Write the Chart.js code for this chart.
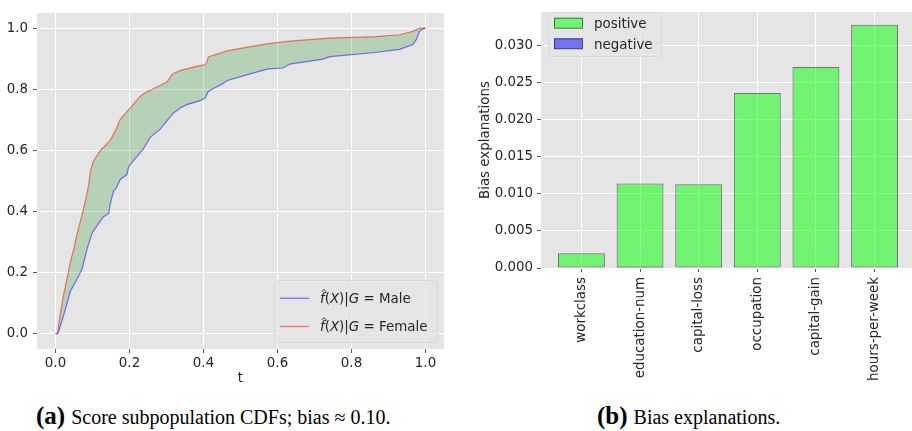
<!DOCTYPE html>
<html>
<head>
<meta charset="utf-8">
<script src="https://cdn.jsdelivr.net/npm/chart.js@4.4.1/dist/chart.umd.min.js"></script>
<style>
  html, body { margin: 0; width: 912px; height: 431px; overflow: hidden; background: #fff; }
  canvas { position: absolute; top: 0; }
  #cdf { left: 0; }
  #bias { left: 455px; }
  .cap { position: absolute; top: 406px; font-family: "Liberation Serif", "Times New Roman", serif; font-size: 20px; line-height: 20px; color: #000; white-space: nowrap; }
  .cap b { font-size: 25px; margin-right: 6px; }
</style>
</head>
<body>
<canvas id="cdf" width="452" height="392"></canvas>
<canvas id="bias" width="470" height="392"></canvas>
<div class="cap" style="left:36px"><b>(a)</b>Score subpopulation CDFs; bias ≈ 0.10.</div>
<div class="cap" style="left:597px"><b>(b)</b>Bias explanations.</div>
<script>
// (a) empirical score CDFs per group
const tTicks = [0, 0.2, 0.4, 0.6, 0.8, 1.0];
const cdfTicks = [0, 0.2, 0.4, 0.6, 0.8, 1.0];

const maleT = [0, 0.005, 0.009, 0.023, 0.040, 0.063, 0.072, 0.085, 0.099, 0.117, 0.130, 0.144, 0.148, 0.157, 0.162,
  0.175, 0.193, 0.198, 0.220, 0.238, 0.256, 0.283, 0.301, 0.319, 0.337, 0.355, 0.391, 0.404, 0.413, 0.427, 0.445,
  0.467, 0.526, 0.575, 0.615, 0.633, 0.723, 0.741, 0.858, 0.930, 0.966, 0.975, 0.984, 0.995, 1.0];
const maleCdf = [0, 0, 0.010, 0.064, 0.138, 0.190, 0.213, 0.276, 0.330, 0.362, 0.383, 0.394, 0.425, 0.468, 0.473,
  0.505, 0.521, 0.548, 0.580, 0.606, 0.643, 0.670, 0.697, 0.723, 0.739, 0.750, 0.763, 0.771, 0.793, 0.803, 0.814,
  0.830, 0.851, 0.867, 0.870, 0.883, 0.899, 0.907, 0.920, 0.931, 0.947, 0.963, 0.990, 1.0, 1.0];

const femaleT = [0, 0.005, 0.009, 0.0135, 0.022, 0.031, 0.040, 0.049, 0.060, 0.072, 0.083, 0.090, 0.094, 0.102,
  0.121, 0.148, 0.162, 0.175, 0.198, 0.229, 0.243, 0.274, 0.301, 0.317, 0.342, 0.391, 0.404, 0.409, 0.413, 0.463,
  0.508, 0.571, 0.633, 0.741, 0.867, 0.930, 0.966, 0.984, 0.995, 1.0];
const femaleCdf = [0, 0, 0.032, 0.069, 0.128, 0.180, 0.234, 0.276, 0.335, 0.390, 0.447, 0.489, 0.530, 0.564,
  0.600, 0.633, 0.665, 0.702, 0.734, 0.777, 0.789, 0.808, 0.824, 0.851, 0.864, 0.878, 0.881, 0.888, 0.906, 0.926,
  0.936, 0.949, 0.958, 0.968, 0.973, 0.979, 0.990, 1.0, 1.0, 1.0];

// (b) per-feature bias explanations
const features = ["workclass", "education-num", "capital-loss", "occupation", "capital-gain", "hours-per-week"];
const positive = [0.0020, 0.0114, 0.0113, 0.0236, 0.0271, 0.0328];
const negative = [0, 0.00012, 0, 0, 0, 0];
const biasTicks = [0, 0.005, 0.010, 0.015, 0.020, 0.025, 0.030];

const FONT = '"DejaVu Sans", sans-serif';
const FS = 13.4;
const BG = "#e5e5e5";
const INK = "#262626";
const TICK = "#555555";

Chart.defaults.font.family = FONT;
Chart.defaults.font.size = FS;
Chart.defaults.color = INK;

// ggplot-style grey panel behind the data
const panelBg = {
  id: "panelBg",
  beforeDraw(chart) {
    const { ctx, chartArea: a } = chart;
    ctx.save();
    ctx.fillStyle = BG;
    ctx.fillRect(a.left, a.top, a.right - a.left, a.bottom - a.top);
    ctx.restore();
  },
};

function legendBox(ctx, x, y, w, h) {
  ctx.save();
  ctx.beginPath();
  ctx.roundRect(x, y, w, h, 3);
  ctx.globalAlpha = 0.8;
  ctx.fillStyle = BG;
  ctx.fill();
  ctx.strokeStyle = "#d6d6d6";
  ctx.lineWidth = 1;
  ctx.stroke();
  ctx.restore();
}

// f̂(X)|G = <group>, mixing oblique math letters with upright text
function mathLabel(ctx, x, base, group) {
  const parts = [["f", 1], ["(", 0], ["X", 1], [")", 0], ["|", 0], ["G", 1], [" = ", 0], [group, 0]];
  let cx = x;
  for (const [s, it] of parts) {
    ctx.font = (it ? "italic " : "") + FS + "px " + FONT;
    ctx.fillText(s, cx, base);
    if (s === "f") {
      const hx = cx + 4;
      ctx.save();
      ctx.lineWidth = 0.9;
      ctx.strokeStyle = INK;
      ctx.beginPath();
      ctx.moveTo(hx - 2.2, base - 11.5);
      ctx.lineTo(hx, base - 13.8);
      ctx.lineTo(hx + 2.2, base - 11.5);
      ctx.stroke();
      ctx.restore();
    }
    cx += ctx.measureText(s).width;
  }
}

const cdfLegend = {
  id: "cdfLegend",
  afterDraw(chart) {
    const ctx = chart.ctx;
    legendBox(ctx, 274.5, 280.5, 163, 62);
    const rows = [[298.3, chart.data.datasets[0]], [326.5, chart.data.datasets[1]]];
    ctx.save();
    ctx.fillStyle = INK;
    ctx.textBaseline = "alphabetic";
    for (const [y, ds] of rows) {
      ctx.strokeStyle = ds.borderColor;
      ctx.lineWidth = 1.3;
      ctx.beginPath();
      ctx.moveTo(280, y);
      ctx.lineTo(309, y);
      ctx.stroke();
      mathLabel(ctx, 320, y + 4.9, ds.label);
    }
    ctx.restore();
  },
};

const biasLegend = {
  id: "biasLegend",
  afterDraw(chart) {
    const ctx = chart.ctx;
    const ox = -455;
    legendBox(ctx, 548.5 + ox, 12.5, 113, 44);
    ctx.save();
    ctx.font = FS + "px " + FONT;
    ctx.textBaseline = "alphabetic";
    const rows = [[17.7, chart.data.datasets[0]], [38.3, chart.data.datasets[1]]];
    for (const [y, ds] of rows) {
      ctx.fillStyle = BG;
      ctx.fillRect(554 + ox, y, 28.7, 10.7);
      ctx.fillStyle = ds.backgroundColor;
      ctx.fillRect(554 + ox, y, 28.7, 10.7);
      ctx.strokeStyle = ds.borderColor;
      ctx.lineWidth = 1;
      ctx.strokeRect(554.5 + ox, y + 0.5, 28, 10);
      ctx.fillStyle = INK;
      ctx.fillText(ds.label, 594 + ox, y + 5.35 + 4.9);
    }
    ctx.restore();
  },
};

const pts = (xs, ys) => xs.map((x, i) => ({ x, y: ys[i] }));
const fixTicks = (vals) => (scale) => { scale.ticks = vals.map((value) => ({ value })); };
const grid = { color: "#ffffff", lineWidth: 1, tickColor: TICK, tickLength: 4, drawTicks: true, offset: false };

new Chart(document.getElementById("cdf"), {
  type: "line",
  data: {
    datasets: [
      {
        label: "Male",
        data: pts(maleT, maleCdf),
        borderColor: "rgba(0,0,255,0.5)",
        borderWidth: 1.2,
        pointRadius: 0,
        tension: 0,
        fill: false,
      },
      {
        label: "Female",
        data: pts(femaleT, femaleCdf),
        borderColor: "rgba(255,0,0,0.5)",
        backgroundColor: "rgba(0,128,0,0.2)",
        borderWidth: 1.2,
        pointRadius: 0,
        tension: 0,
        fill: { target: 0 },
      },
    ],
  },
  options: {
    responsive: false,
    animation: false,
    events: [],
    layout: { padding: { top: 5, right: 8, left: 0, bottom: 0 } },
    plugins: { legend: { display: false }, tooltip: { enabled: false } },
    scales: {
      x: {
        type: "linear",
        min: -0.05,
        max: 1.05,
        afterBuildTicks: fixTicks(tTicks),
        afterFit: (s) => { s.height = 43; },
        grid,
        border: { display: false },
        ticks: { padding: 2, color: INK, callback: (v) => v.toFixed(1) },
        title: { display: true, text: "t", color: INK, font: { size: FS }, padding: { top: 0, bottom: 5 } },
      },
      y: {
        type: "linear",
        min: -0.05,
        max: 1.05,
        afterBuildTicks: fixTicks(cdfTicks),
        afterFit: (s) => { s.width = 37; },
        grid,
        border: { display: false },
        ticks: { padding: 5, color: INK, callback: (v) => v.toFixed(1) },
      },
    },
  },
  plugins: [panelBg, cdfLegend],
});

new Chart(document.getElementById("bias"), {
  type: "bar",
  data: {
    datasets: [
      {
        label: "positive",
        data: pts(features.map((_, i) => i), positive),
        backgroundColor: "rgba(0,255,0,0.5)",
        borderColor: "rgba(0,0,0,0.5)",
        borderWidth: 1,
        borderSkipped: false,
        grouped: false,
        barPercentage: 0.8,
        categoryPercentage: 1,
      },
      {
        label: "negative",
        data: pts(features.map((_, i) => i), negative),
        backgroundColor: "rgba(0,0,255,0.5)",
        borderColor: "rgba(0,0,0,0.5)",
        borderWidth: 1,
        borderSkipped: false,
        grouped: false,
        barPercentage: 0.8,
        categoryPercentage: 1,
      },
    ],
  },
  options: {
    responsive: false,
    animation: false,
    events: [],
    layout: { padding: { top: 5, right: 10, left: 0, bottom: 0 } },
    plugins: { legend: { display: false }, tooltip: { enabled: false } },
    scales: {
      x: {
        type: "linear",
        offset: false,
        min: -0.69,
        max: 5.69,
        afterBuildTicks: fixTicks(features.map((_, i) => i)),
        afterFit: (s) => { s.height = 124; },
        grid,
        border: { display: false },
        ticks: { padding: 5, color: INK, autoSkip: false, minRotation: 90, maxRotation: 90, callback: (v) => features[v] },
      },
      y: {
        type: "linear",
        min: 0,
        max: 0.0345,
        afterBuildTicks: fixTicks(biasTicks),
        afterFit: (s) => { s.width = 86; },
        grid,
        border: { display: false },
        ticks: { padding: 4, color: INK, callback: (v) => v.toFixed(3) },
        title: { display: true, text: "Bias explanations", color: INK, font: { size: FS }, padding: { top: 22, bottom: 0 } },
      },
    },
  },
  plugins: [panelBg, biasLegend],
});
</script>
</body>
</html>
